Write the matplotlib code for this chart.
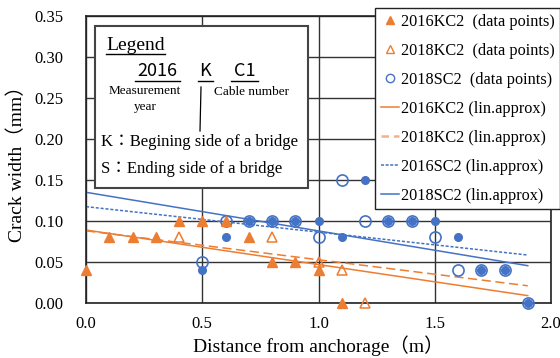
import matplotlib
matplotlib.use("Agg")
import matplotlib.pyplot as plt
from matplotlib.lines import Line2D
from matplotlib.patches import Rectangle

ORANGE = "#ED7D31"
ORANGE_LT = "#F4B183"
BLUE = "#4472C4"

# measured crack widths (mm) against distance from anchorage (m)
kc2_2016_x = [0.0, 0.1, 0.2, 0.3, 0.4, 0.5, 0.6, 0.7, 0.8, 0.9, 1.0, 1.1]
kc2_2016_y = [0.04, 0.08, 0.08, 0.08, 0.10, 0.10, 0.10, 0.08, 0.05, 0.05, 0.04, 0.00]

kc2_2018_x = [0.4, 0.8, 1.0, 1.1, 1.2]
kc2_2018_y = [0.08, 0.08, 0.05, 0.04, 0.00]

sc2_2016_x = [0.5, 0.6, 0.7, 0.8, 0.9, 1.0, 1.1, 1.2, 1.3, 1.4, 1.5, 1.6, 1.7, 1.8, 1.9]
sc2_2016_y = [0.04, 0.08, 0.10, 0.10, 0.10, 0.10, 0.08, 0.15, 0.10, 0.10, 0.10, 0.08, 0.04, 0.04, 0.00]

sc2_2018_x = [0.5, 0.6, 0.7, 0.8, 0.9, 1.0, 1.1, 1.2, 1.3, 1.4, 1.5, 1.6, 1.7, 1.8, 1.9]
sc2_2018_y = [0.05, 0.10, 0.10, 0.10, 0.10, 0.08, 0.15, 0.10, 0.10, 0.10, 0.08, 0.04, 0.04, 0.04, 0.00]

# linear approximations (end points of the trend lines)
fit_x = [0.0, 1.9]
fit_kc2_2016 = [0.089, 0.009]
fit_kc2_2018 = [0.088, 0.021]
fit_sc2_2016 = [0.1175, 0.0585]
fit_sc2_2018 = [0.135, 0.0455]

plt.rcParams["font.family"] = ["Liberation Serif", "Noto Sans CJK JP"]

W, H = 560, 358
fig = plt.figure(figsize=(W / 100, H / 100), dpi=100)
ax = fig.add_axes([86 / W, 1 - 303 / H, (551 - 86) / W, (303 - 16) / H])

ax.set_xlim(0, 2.0)
ax.set_ylim(0, 0.35)
ax.set_xticks([0.0, 0.5, 1.0, 1.5, 2.0])
ax.set_yticks([0.00, 0.05, 0.10, 0.15, 0.20, 0.25, 0.30, 0.35])
ax.xaxis.set_major_formatter(matplotlib.ticker.FormatStrFormatter("%.1f"))
ax.yaxis.set_major_formatter(matplotlib.ticker.FormatStrFormatter("%.2f"))
ax.tick_params(length=0, labelsize=12)
ax.tick_params(axis="y", pad=16)
ax.tick_params(axis="x", pad=9)
ax.grid(True, color="#333333", lw=1.0, zorder=0)
ax.set_axisbelow(True)
for s in ax.spines.values():
    s.set_color("#222222")
    s.set_linewidth(1.2)

ax.set_xlabel("Distance from anchorage（m）", fontsize=14, labelpad=3)
ax.set_ylabel("Crack width（mm）", fontsize=14, labelpad=6)

# trend lines
ax.plot(fit_x, fit_kc2_2016, color=ORANGE, lw=1.1, zorder=2)
ax.plot(fit_x, fit_kc2_2018, color=ORANGE, lw=1.1, ls=(0, (6, 3)), zorder=2)
ax.plot(fit_x, fit_sc2_2016, color=BLUE, lw=1.1, ls=(0, (2, 1.2)), zorder=2)
ax.plot(fit_x, fit_sc2_2018, color=BLUE, lw=1.1, zorder=2)

# data points
ax.plot(sc2_2016_x, sc2_2016_y, "o", color=BLUE, ms=5.5, ls="none", zorder=3,
        clip_on=False)
ax.plot(sc2_2018_x, sc2_2018_y, "o", mfc="none", mec=BLUE, mew=1.2, ms=8,
        ls="none", zorder=4, clip_on=False)
ax.plot(kc2_2016_x, kc2_2016_y, "^", color=ORANGE, ms=7.5, ls="none", zorder=5,
        clip_on=False)
ax.plot(kc2_2018_x, kc2_2018_y, "^", mfc="none", mec=ORANGE, mew=1.1, ms=7.5,
        ls="none", zorder=5, clip_on=False)

handles = [
    Line2D([], [], marker="^", color=ORANGE, ls="none", ms=6),
    Line2D([], [], marker="^", mfc="none", mec=ORANGE, ls="none", ms=6),
    Line2D([], [], marker="o", mfc="none", mec=BLUE, ls="none", ms=6),
    Line2D([], [], color=ORANGE, lw=1.1),
    Line2D([], [], color=ORANGE_LT, lw=1.8, ls=(0, (3, 2))),
    Line2D([], [], color=BLUE, lw=1.1, ls=(0, (2, 1))),
    Line2D([], [], color=BLUE, lw=1.1),
]
labels = [
    "2016KC2  (data points)",
    "2018KC2  (data points)",
    "2018SC2  (data points)",
    "2016KC2 (lin.approx)",
    "2018KC2 (lin.approx)",
    "2016SC2 (lin.approx)",
    "2018SC2 (lin.approx)",
]
leg = ax.legend(handles, labels, loc="upper left",
                bbox_to_anchor=(375 / W, 1 - 8 / H),
                bbox_transform=fig.transFigure, fontsize=11.7,
                handlelength=1.15, handletextpad=0.1, labelspacing=0.8,
                borderpad=0.35, borderaxespad=0, fancybox=False,
                framealpha=1, edgecolor="#222222")
leg.get_frame().set_linewidth(1.0)
leg.set_zorder(10)


def fx(px):
    return px / W


def fy(py):
    return 1 - py / H


# explanation box for the series naming
fig.patches.append(Rectangle((fx(95), fy(188)), fx(308) - fx(95), fy(26) - fy(188),
                             transform=fig.transFigure, fc="white",
                             ec="#444444", lw=1.5, zorder=5))

fig.text(fx(106), fy(45), "Legend", fontsize=14, va="center", ha="left", zorder=6)
fig.add_artist(Line2D([fx(106), fx(165)], [fy(54), fy(54)], color="black", lw=1.0, zorder=6))

sans = ["Noto Sans CJK JP", "DejaVu Sans"]
fig.text(fx(157), fy(71), "2016", fontsize=13, family=sans, va="center", ha="center", zorder=6)
fig.text(fx(205), fy(71), "K", fontsize=13, family=sans, va="center", ha="center", zorder=6)
fig.text(fx(245), fy(71), "C1", fontsize=13, family=sans, va="center", ha="center", zorder=6)
for a, b in [(135, 180), (198, 213), (231, 258)]:
    fig.add_artist(Line2D([fx(a), fx(b)], [fy(81), fy(81)], color="black", lw=1.0, zorder=6))
fig.add_artist(Line2D([fx(201), fx(200)], [fy(87), fy(131)], color="black", lw=0.9, zorder=6))

fig.text(fx(145), fy(91), "Measurement", fontsize=9.5, va="center", ha="center", zorder=6)
fig.text(fx(145), fy(107), "year", fontsize=9.5, va="center", ha="center", zorder=6)
fig.text(fx(252), fy(92), "Cable number", fontsize=9.5, va="center", ha="center", zorder=6)
fig.text(fx(101), fy(142), "K：Begining side of a bridge", fontsize=12,
         va="center", ha="left", zorder=6)
fig.text(fx(101), fy(169), "S：Ending side of a bridge", fontsize=12,
         va="center", ha="left", zorder=6)

fig.savefig("out.png", dpi=100)
